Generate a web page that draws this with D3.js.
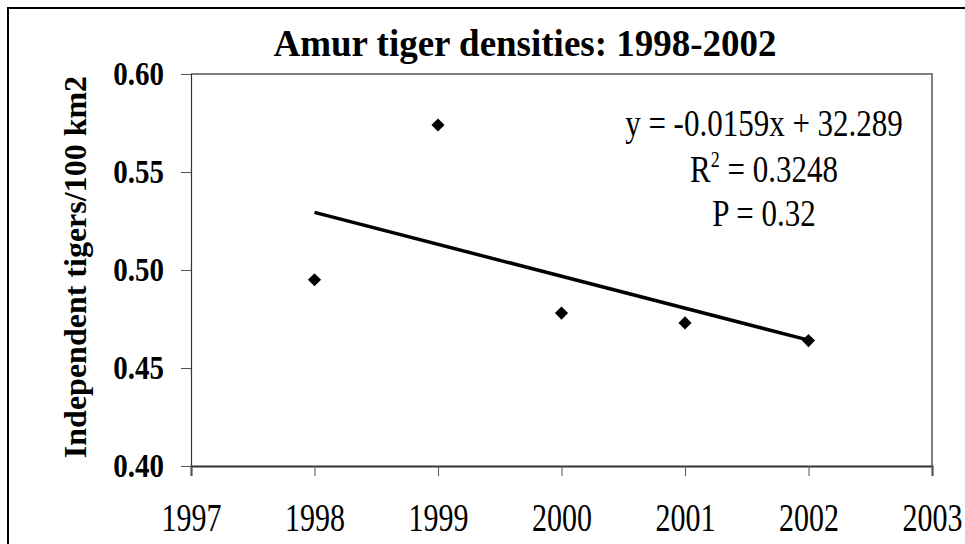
<!DOCTYPE html>
<html>
<head>
<meta charset="utf-8">
<script src="https://cdn.jsdelivr.net/npm/d3@7"></script>
<style>
  html, body { margin: 0; padding: 0; background: #fff; }
  svg { display: block; }
</style>
</head>
<body>
<svg id="chart" width="965" height="544" font-family="Liberation Serif, Times New Roman, serif"></svg>
<script>
// ---- data ----
const years = [1998, 1999, 2000, 2001, 2002];
const densities = [0.495, 0.574, 0.478, 0.473, 0.464];
const xTicks = [1997, 1998, 1999, 2000, 2001, 2002, 2003];
const yTicks = [0.40, 0.45, 0.50, 0.55, 0.60];
const titleText = "Amur tiger densities: 1998-2002";
const yAxisTitle = "Independent tigers/100 km2";
const equationText = "y = -0.0159x + 32.289";
const r2Value = "0.3248";
const pText = "P = 0.32";

const FONT = "Liberation Serif, Times New Roman, serif";
const svg = d3.select("#chart");
const m = { left: 191, right: 932, top: 74, bottom: 466 };

// outer frame (extends past right/bottom edges)
svg.append("rect").attr("x", 8).attr("y", 8).attr("width", 970).attr("height", 560)
  .attr("fill", "#fff").attr("stroke", "#000").attr("stroke-width", 2);

const x = d3.scaleLinear().domain([1997, 2003]).range([m.left, m.right]);
const y = d3.scaleLinear().domain([0.40, 0.60]).range([m.bottom, m.top]);

// plot area border (top/right gray)
svg.append("path")
  .attr("d", `M${m.left},${m.top}H${m.right}V${m.bottom}`)
  .attr("fill", "none").attr("stroke", "#808080").attr("stroke-width", 2);

// y axis
const yAxis = svg.append("g").attr("transform", `translate(${m.left},0)`)
  .call(d3.axisLeft(y).tickValues(yTicks).tickFormat(d3.format(".2f")).tickSize(10));
yAxis.attr("font-family", FONT).attr("font-size", 29).attr("font-weight", "bold");
yAxis.select(".domain").attr("stroke", "#333").attr("stroke-width", 1.2);
yAxis.selectAll(".tick line").attr("stroke", "#555");
yAxis.selectAll(".tick text").attr("fill", "#000").attr("x", null).attr("dy", null).attr("y", null)
  .attr("transform", "translate(-27,10) scale(1,1.15)");

// x axis
const xAxis = svg.append("g").attr("transform", `translate(0,${m.bottom})`)
  .call(d3.axisBottom(x).tickValues(xTicks).tickFormat(d3.format("d")).tickSize(10));
xAxis.attr("font-family", FONT).attr("font-size", 30);
xAxis.select(".domain").attr("stroke", "#333").attr("stroke-width", 2);
xAxis.selectAll(".tick line").attr("stroke", "#555");
xAxis.selectAll(".tick text").attr("fill", "#000").attr("y", null).attr("dy", null)
  .attr("transform", "translate(0,65) scale(1,1.35)");

// trendline (least squares from the data)
const mx = d3.mean(years), my = d3.mean(densities);
const slope = d3.sum(years.map((v, i) => (v - mx) * (densities[i] - my))) /
              d3.sum(years.map(v => (v - mx) * (v - mx)));
const icpt = my - slope * mx;
const x0 = d3.min(years), x1 = d3.max(years);
svg.append("line")
  .attr("x1", x(x0)).attr("y1", y(slope * x0 + icpt))
  .attr("x2", x(x1)).attr("y2", y(slope * x1 + icpt))
  .attr("stroke", "#000").attr("stroke-width", 3.5);

// markers (diamonds)
svg.selectAll("path.pt").data(years).enter().append("path")
  .attr("class", "pt")
  .attr("d", d3.symbol().type(d3.symbolDiamond2).size(110))
  .attr("transform", (d, i) => `translate(${x(d)},${y(densities[i])})`)
  .attr("fill", "#000");

// title
svg.append("text").attr("transform", "translate(525,56) scale(1,1.05)").attr("text-anchor", "middle")
  .attr("font-family", FONT).attr("font-size", 37).attr("font-weight", "bold").text(titleText);

// y axis title
svg.append("text").attr("transform", "translate(86,267) rotate(-90)")
  .attr("text-anchor", "middle").attr("font-family", FONT)
  .attr("font-size", 32).attr("font-weight", "bold").text(yAxisTitle);

// equation block
const eq = svg.append("g").attr("transform", "translate(764,0)").attr("font-family", FONT).attr("font-size", 31);
eq.append("text").attr("transform", "translate(0,136) scale(1,1.25)").attr("text-anchor", "middle").text(equationText);
const r2 = eq.append("text").attr("transform", "translate(0,182) scale(1,1.25)").attr("text-anchor", "middle");
r2.append("tspan").text("R");
r2.append("tspan").attr("dy", -12).attr("font-size", 18).text("2");
r2.append("tspan").attr("dy", 12).text(" = " + r2Value);
eq.append("text").attr("transform", "translate(0,226) scale(1,1.25)").attr("text-anchor", "middle").text(pText);
</script>
</body>
</html>
